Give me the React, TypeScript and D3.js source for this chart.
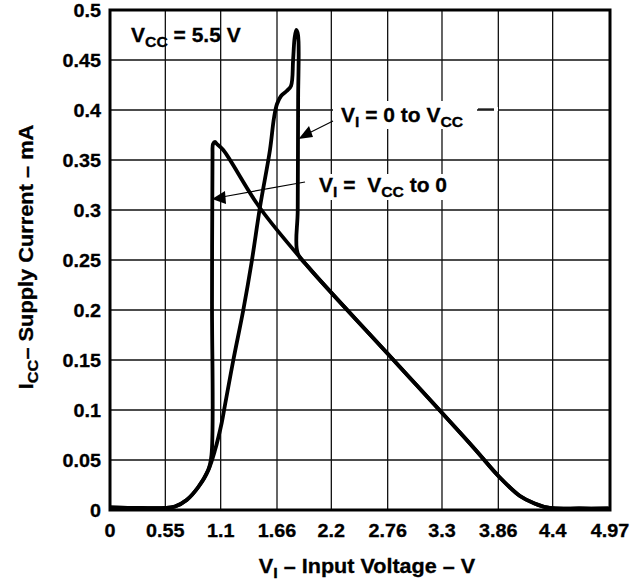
// @ts-nocheck
import * as d3 from 'd3';

const xTicks = [0, 0.55, 1.1, 1.66, 2.2, 2.76, 3.3, 3.86, 4.4, 4.97];
const yTicks = [0, 0.05, 0.1, 0.15, 0.2, 0.25, 0.3, 0.35, 0.4, 0.45, 0.5];

// V_I = 0 to VCC (sweep up)
const riseV = [0, 0.3, 0.547, 0.646, 0.762, 0.878, 0.977, 1.044, 1.11, 1.143, 1.226, 1.325, 1.408, 1.491, 1.59, 1.63, 1.66, 1.7, 1.756, 1.799, 1.82, 1.835, 1.852, 1.869, 1.87, 1.866, 1.865, 1.971, 2.763, 3.608, 3.87, 4.075, 4.22, 4.37, 4.67, 4.95];
const riseI = [0.0025, 0.002, 0.002, 0.0035, 0.01, 0.023, 0.04, 0.06, 0.087, 0.105, 0.15, 0.2, 0.248, 0.303, 0.36, 0.392, 0.406, 0.414, 0.419, 0.424, 0.45, 0.472, 0.48, 0.475, 0.41, 0.3, 0.257, 0.243, 0.156, 0.063, 0.033, 0.014, 0.0065, 0.002, 0.0015, 0.0015];

// V_I = VCC to 0 (sweep down)
const fallV = [4.95, 4.67, 4.37, 4.22, 4.075, 3.87, 3.608, 2.763, 1.971, 1.491, 1.126, 1.063, 1.044, 1.024, 1.019, 1.014, 1.009, 0.977, 0.878, 0.762, 0.646, 0.547, 0.3, 0];
const fallI = [0.0015, 0.0015, 0.002, 0.0065, 0.014, 0.033, 0.063, 0.156, 0.243, 0.302, 0.36, 0.366, 0.368, 0.366, 0.355, 0.21, 0.055, 0.04, 0.023, 0.01, 0.0035, 0.002, 0.002, 0.0025];

const font = '"Liberation Sans", Arial, Helvetica, sans-serif';

// text drawn slightly wider, like the original's lettering
const T = ({ x, y, sx = 1.07, anchor = 'start', size = 20, rotate = 0, children }) => (
  <g transform={`translate(${x},${y}) rotate(${rotate}) scale(${sx},1)`}>
    <text textAnchor={anchor} fontSize={size} stroke="#000" strokeWidth={0.3} style={{ whiteSpace: 'pre' }}>
      {children}
    </text>
  </g>
);

const App = () => {
  const width = 644;
  const height = 583;
  const margin = { top: 10, right: 34, bottom: 73, left: 110 };
  const innerWidth = width - margin.left - margin.right;
  const innerHeight = height - margin.top - margin.bottom;

  const xScale = d3.scaleLinear().domain([0, 4.97]).range([0, innerWidth]);
  const yScale = d3.scaleLinear().domain([0, 0.5]).range([innerHeight, 0]);

  const line = d3.line()
    .x((d) => xScale(d[0]))
    .y((d) => yScale(d[1]))
    .curve(d3.curveCatmullRom.alpha(0.5));

  const rise = riseV.map((v, i) => [v, riseI[i]]);
  const fall = fallV.map((v, i) => [v, fallI[i]]);

  return (
    <svg width={width} height={height} style={{ position: 'absolute', left: 0, top: 0, background: '#fff' }} fontFamily={font} fontWeight="bold">
      <defs>
        <clipPath id="plot">
          <rect x={0} y={0} width={innerWidth} height={innerHeight} />
        </clipPath>
      </defs>
      <g transform={`translate(${margin.left}, ${margin.top})`}>
        {yTicks.map((t) => (
          <g key={'y' + t}>
            <line stroke="#111" strokeWidth={1.3} x1={0} x2={innerWidth} y1={yScale(t)} y2={yScale(t)} />
            <T x={-9} y={yScale(t) + 7} anchor="end" size={18.5}>{t}</T>
          </g>
        ))}
        {xTicks.map((t) => (
          <g key={'x' + t}>
            <line stroke="#111" strokeWidth={1.3} x1={xScale(t)} x2={xScale(t)} y1={0} y2={innerHeight} />
            <T x={xScale(t)} y={innerHeight + 27} anchor="middle" size={18.5}>{t}</T>
          </g>
        ))}

        {/* label backgrounds */}
        <rect x={223} y={91} width={144} height={28} fill="#fff" />
        <rect x={384} y={97} width={4} height={4} fill="#fff" />
        <rect x={206} y={164} width={137} height={26} fill="#fff" />

        <g clipPath="url(#plot)">
          <path d={line(rise)} fill="none" stroke="#000" strokeWidth={3.8} strokeLinejoin="round" strokeLinecap="round" />
          <path d={line(fall)} fill="none" stroke="#000" strokeWidth={3.8} strokeLinejoin="round" strokeLinecap="round" />
        </g>

        <rect x={0} y={0} width={innerWidth} height={innerHeight} fill="none" stroke="#000" strokeWidth={3} />

        {/* annotations */}
        <T x={21} y={32} sx={1.05}>
          V<tspan fontSize={15} dy={5}>CC</tspan><tspan dy={-5}> = 5.5 V</tspan>
        </T>

        <line x1={223} y1={111} x2={195} y2={125} stroke="#000" strokeWidth={1.2} />
        <path d="M188.5,129 L199,116 L203,127 Z" fill="#000" />
        <line x1={368} y1={99} x2={384} y2={99} stroke="#000" strokeWidth={1.2} />
        <T x={231} y={111.5} sx={1.05}>
          V<tspan fontSize={15} dy={5}>I</tspan><tspan dy={-5}> = 0 to V</tspan><tspan fontSize={15} dy={5}>CC</tspan>
        </T>

        <line x1={195} y1={172} x2={112} y2={187} stroke="#000" strokeWidth={1.2} />
        <path d="M102,189 L115,181 L116,194 Z" fill="#000" />
        <T x={209} y={182} sx={1.05}>
          V<tspan fontSize={15} dy={5}>I</tspan><tspan dy={-5}> =  V</tspan><tspan fontSize={15} dy={5}>CC</tspan><tspan dy={-5}> to 0</tspan>
        </T>
      </g>

      <T x={367} y={572.5} anchor="middle" sx={1.08}>
        V<tspan fontSize={15} dy={5}>I</tspan><tspan dy={-5}> – Input Voltage – V</tspan>
      </T>
      <T x={33} y={257} anchor="middle" rotate={-90} sx={1.09}>
        I<tspan fontSize={15} dy={5}>CC</tspan><tspan dy={-5}>– Supply Current – mA</tspan>
      </T>
    </svg>
  );
};

export default App;
